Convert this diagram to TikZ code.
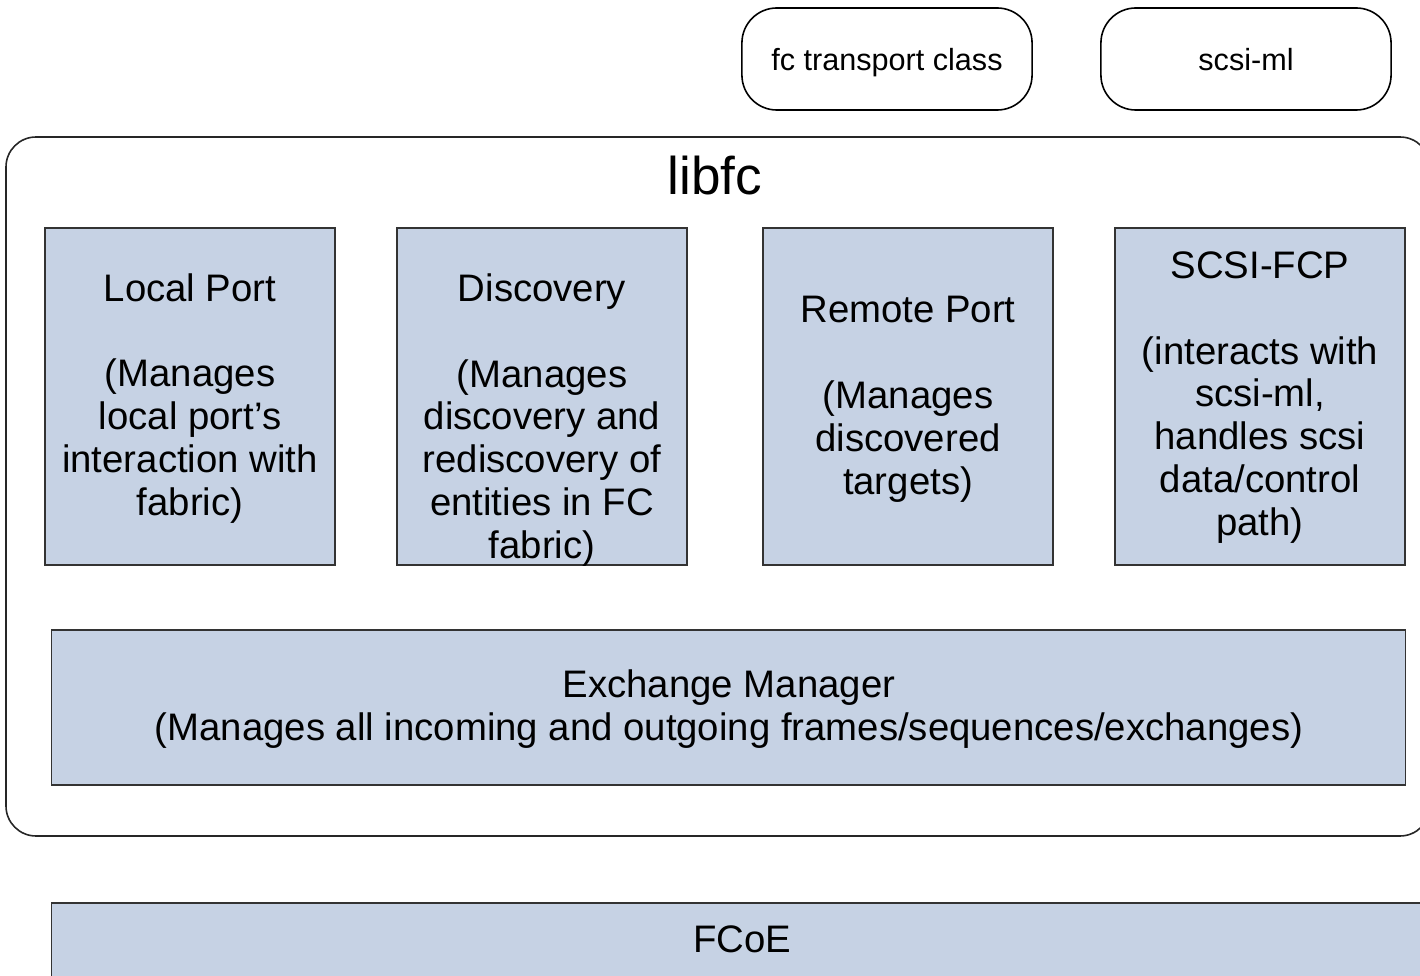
\documentclass[tikz,border=0pt]{standalone}
\usepackage{fontspec}
\setmainfont{Liberation Sans}
\definecolor{boxfill}{RGB}{198,210,228}
\begin{document}
\begin{tikzpicture}[x=0.01cm,y=-0.01cm]
\tikzset{bloc/.style={draw=black!80, fill=boxfill, line width=0.45pt, inner sep=0pt},
  arrondi/.style={draw=black, line width=0.45pt, rounded corners=0.35cm, minimum width=2.9cm, minimum height=1.02cm, text depth=0pt, font=\fontsize{8.7}{10.4}\selectfont},
  texte/.style={align=center, inner sep=0pt, font=\fontsize{10.9}{12.2}\selectfont}}
\clip (0,0) rectangle (1420,976);
% upper layers
\node[arrondi] (fctc) at (887,59) {fc transport class};
\node[arrondi] (scsiml) at (1246,59) {scsi-ml};
% libfc
\draw[black!85, line width=0.45pt, rounded corners=0.3cm] (6,137) rectangle (1430,836);
\node[inner sep=0pt, font=\fontsize{15.1}{18}\selectfont] (libfc) at (715,176) {libfc};
\node[bloc, minimum width=2.9cm, minimum height=3.37cm] (lport) at (190,396.5) {};
\node[bloc, minimum width=2.9cm, minimum height=3.37cm] (disc) at (542,396.5) {};
\node[bloc, minimum width=2.9cm, minimum height=3.37cm] (rport) at (908,396.5) {};
\node[bloc, minimum width=2.9cm, minimum height=3.37cm] (fcp) at (1260,396.5) {};
\node[texte] (lporttxt) at (190,398.5) {Local Port\\[12.2pt](Manages\\local port’s\\interaction with\\fabric)};
\node[texte] (disctxt) at (542,420) {Discovery\\[12.2pt](Manages\\discovery and\\rediscovery of\\entities in FC\\fabric)};
\node[texte] (rporttxt) at (908,399) {Remote Port\\[12.2pt](Manages\\discovered\\targets)};
\node[texte] (fcptxt) at (1260,397.5) {SCSI-FCP\\[12.2pt](interacts with\\scsi-ml,\\handles scsi\\data/control\\path)};
\node[bloc, minimum width=13.53cm, minimum height=1.55cm] (exch) at (728.5,707.5) {};
\node[texte] (exchtxt) at (729,709.5) {Exchange Manager\\(Manages all incoming and outgoing frames/sequences/exchanges)};
% FCoE
\node[bloc, minimum width=13.88cm, minimum height=0.97cm] (fcoe) at (746,951.5) {};
\node[texte] (fcoetxt) at (742,939) {FCoE};
\end{tikzpicture}
\end{document}
